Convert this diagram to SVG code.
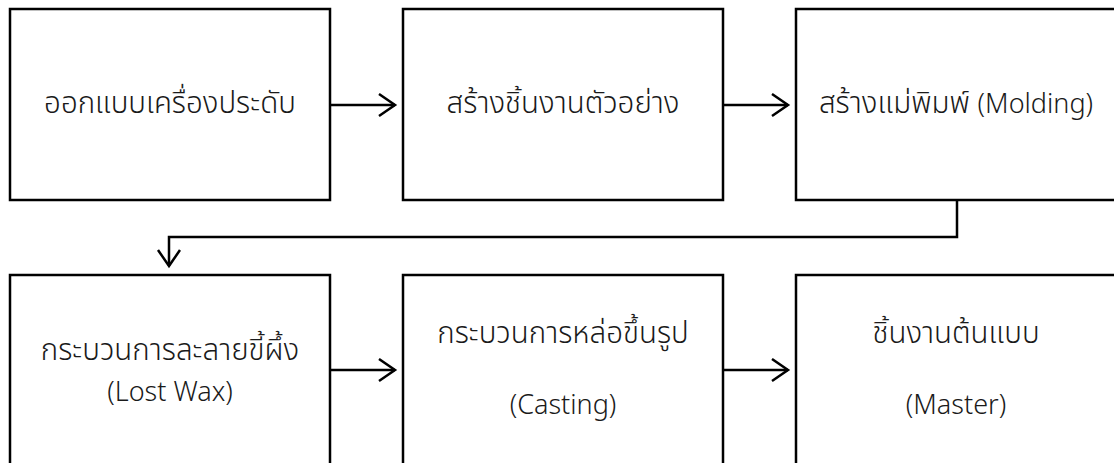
<svg xmlns="http://www.w3.org/2000/svg" width="1114" height="463" viewBox="0 0 1114 463">
<defs>
<style>
.box{fill:#fff;stroke:#000;stroke-width:2.5}
.t{font-family:"Noto Sans Thai","Noto Sans","Open Sans",sans-serif;font-size:29.5px;font-weight:300;fill:#1a1a1a;text-anchor:middle}
.l{font-family:"Noto Sans","Open Sans",sans-serif;font-size:27px;font-weight:300}
.c{fill:none;stroke:#000;stroke-width:2.5}
</style>
<marker id="arr" markerWidth="20" markerHeight="26" refX="17" refY="12" orient="auto" markerUnits="userSpaceOnUse">
<path d="M1,1 L17,12 L1,23" fill="none" stroke="#000" stroke-width="2.5"/>
</marker>
</defs>
<rect width="1114" height="463" fill="#fff"/>
<g id="n1"><rect class="box" x="10" y="9" width="320" height="191"/><text class="t" x="170" y="113">ออกแบบเครื่องประดับ</text></g>
<g id="n2"><rect class="box" x="403" y="9" width="320" height="191"/><text class="t" x="563" y="113">สร้างชิ้นงานตัวอย่าง</text></g>
<g id="n3"><rect class="box" x="796" y="9" width="330" height="191"/><text class="t" x="956" y="113">สร้างแม่พิมพ์ <tspan class="l">(Molding)</tspan></text></g>
<g id="n4"><rect class="box" x="10" y="275" width="320" height="200"/><text class="t" x="170" y="360">กระบวนการละลายขี้ผึ้ง</text><text class="t l" x="170" y="401">(Lost Wax)</text></g>
<g id="n5"><rect class="box" x="403" y="275" width="320" height="200"/><text class="t" x="563" y="343">กระบวนการหล่อขึ้นรูป</text><text class="t l" x="563" y="414">(Casting)</text></g>
<g id="n6"><rect class="box" x="796" y="275" width="330" height="200"/><text class="t" x="956" y="343">ชิ้นงานต้นแบบ</text><text class="t l" x="956" y="414">(Master)</text></g>
<g id="connectors">
<path class="c" d="M330,105 H395" marker-end="url(#arr)"/>
<path class="c" d="M723,105 H788" marker-end="url(#arr)"/>
<path class="c" d="M957,200 V237 H169 V266" marker-end="url(#arr)"/>
<path class="c" d="M330,370 H395" marker-end="url(#arr)"/>
<path class="c" d="M723,370 H788" marker-end="url(#arr)"/>
</g>
</svg>
